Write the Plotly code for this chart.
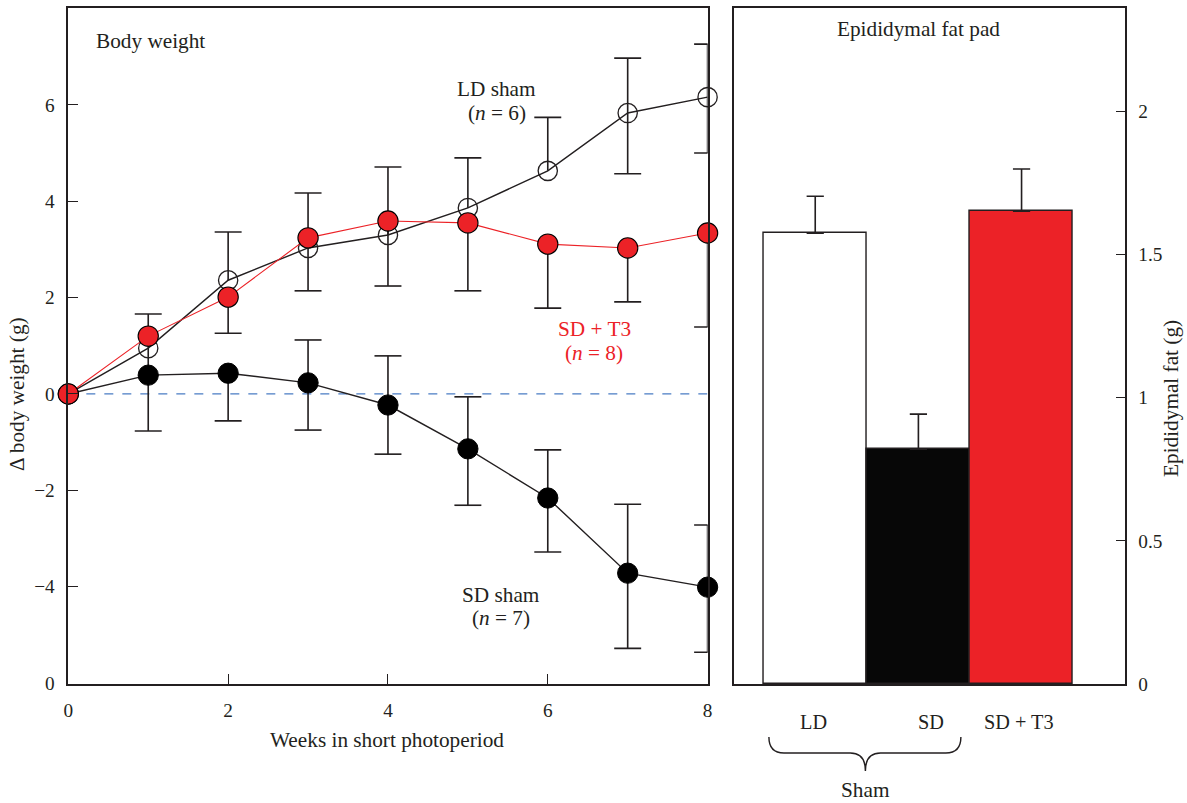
import plotly.graph_objects as go

# ---------------- data ----------------
weeks = [0, 1, 2, 3, 4, 5, 6, 7, 8]

ld_sham = [0, 0.95, 2.36, 3.03, 3.30, 3.86, 4.63, 5.83, 6.16]
ld_plus = [0, 0, 1.00, 1.14, 1.41, 1.04, 1.11, 1.14, 1.10]
ld_minus = [0, 0, 0, 0, 0, 0, 0, 1.26, 1.16]

sd_t3 = [0, 1.20, 2.01, 3.24, 3.59, 3.55, 3.11, 3.03, 3.34]
t3_plus = [0, 0, 0, 0, 0, 0, 0, 0, 0]
t3_minus = [0, 0, 0.75, 1.10, 1.35, 1.41, 1.33, 1.12, 1.95]

sd_sham = [0, 0.39, 0.43, 0.23, -0.23, -1.14, -2.16, -3.72, -4.01]
sd_plus = [0, 1.27, 0, 0.89, 1.02, 1.08, 1.00, 1.43, 1.29]
sd_minus = [0, 1.16, 0.99, 0.98, 1.02, 1.17, 1.12, 1.56, 1.35]

y_tickvals = [-6, -4, -2, 0, 2, 4, 6]
y_ticktext = ["0", "\u22124", "\u22122", "0", "2", "4", "6"]
x_tickvals = [0, 2, 4, 6, 8]

fat_groups = ["LD", "SD", "SD + T3"]
fat_values = [1.574, 0.820, 1.651]
fat_err = [0.129, 0.122, 0.147]
fat_ticks = [0, 0.5, 1, 1.5, 2]
fat_ticktext = ["0", "0.5", "1", "1.5", "2"]

# ---------------- style ----------------
# the photographed viewport is slightly larger than the picture and gets
# fitted into it; compensate so that target pixel positions are hit.
S = 0.9865
OX = 8.0
W = 1187
H = int(round(803 / S))
FONT = "Liberation Serif"
INK = "#231f20"
RED = "#ec2227"
BLUE = "#4a7cc4"


def k(v):
    return v / S


def px(x):
    return ((x - OX) / S) / W


def py(y):
    return 1 - (y / S) / H


fig = go.Figure()


def whiskers(vals, plus, minus):
    fig.add_trace(go.Scatter(
        x=weeks, y=vals, mode="markers",
        marker=dict(size=1, color="rgba(0,0,0,0)"),
        error_y=dict(type="data", symmetric=False, array=plus, arrayminus=minus,
                     color=INK, thickness=k(1.6), width=0),
        cliponaxis=True, showlegend=False, hoverinfo="skip",
        xaxis="x", yaxis="y"))
    cx, cy = [], []
    for w, v, p, m in zip(weeks, vals, plus, minus):
        if p > 0:
            cx.append(w)
            cy.append(v + p)
        if m > 0:
            cx.append(w)
            cy.append(v - m)
    fig.add_trace(go.Scatter(
        x=cx, y=cy, mode="markers",
        marker=dict(symbol="line-ew", size=k(19), line=dict(width=k(1.6), color=INK)),
        cliponaxis=True, showlegend=False, hoverinfo="skip",
        xaxis="x", yaxis="y"))


whiskers(sd_sham, sd_plus, sd_minus)
whiskers(ld_sham, ld_plus, ld_minus)
whiskers(sd_t3, t3_plus, t3_minus)

fig.add_trace(go.Scatter(
    x=weeks, y=sd_sham, mode="lines+markers",
    line=dict(color=INK, width=k(1.4)),
    marker=dict(symbol="circle", size=k(20), color="#000000",
                line=dict(width=1, color="#000000")),
    cliponaxis=False, showlegend=False, xaxis="x", yaxis="y"))
fig.add_trace(go.Scatter(
    x=weeks, y=ld_sham, mode="lines+markers",
    line=dict(color=INK, width=k(1.4)),
    marker=dict(symbol="circle-open", size=k(19), color=INK,
                line=dict(width=k(1.3), color=INK)),
    cliponaxis=False, showlegend=False, xaxis="x", yaxis="y"))
fig.add_trace(go.Scatter(
    x=weeks, y=sd_t3, mode="lines+markers",
    line=dict(color=RED, width=k(1.1)),
    marker=dict(symbol="circle", size=k(20), color=RED,
                line=dict(width=k(1.1), color="#000000")),
    cliponaxis=False, showlegend=False, xaxis="x", yaxis="y"))

fig.add_trace(go.Bar(
    x=fat_groups, y=fat_values, width=1.0,
    marker=dict(color=["#ffffff", "#070707", RED],
                line=dict(color=INK, width=k(1.4))),
    error_y=dict(type="data", symmetric=False, array=fat_err,
                 arrayminus=[0, 0, 0], color=INK, thickness=k(1.6), width=k(8.5)),
    showlegend=False, xaxis="x2", yaxis="y2"))

fig.add_shape(type="line", xref="x", yref="y", x0=0, x1=8, y0=0, y1=0,
              line=dict(color=BLUE, width=k(1.3), dash="dash"), layer="below")

brace = ("M {a},{b} Q {a},{c} {d},{c} L {e},{c} Q {f},{c} {f},{g} "
         "Q {f},{c} {h},{c} L {i},{c} Q {j},{c} {j},{b}").format(
    a=px(768), b=py(737), c=py(753), d=px(783), e=px(849), f=px(864),
    g=py(771), h=px(879), i=px(944), j=px(959))
fig.add_shape(type="path", xref="paper", yref="paper", path=brace,
              line=dict(color=INK, width=k(1.4)))

ann = []


def text(x, y, s, size=21, color=INK, angle=0, xanchor="center"):
    ann.append(dict(x=px(x), y=py(y), xref="paper", yref="paper", text=s,
                    showarrow=False, textangle=angle, xanchor=xanchor,
                    yanchor="middle",
                    font=dict(family=FONT, size=k(size), color=color)))


text(97, 41, "Body weight", xanchor="left")
text(497, 89, "LD sham")
text(497, 113, "(<i>n</i> = 6)")
text(594, 329, "SD + T3", color=RED)
text(594, 353, "(<i>n</i> = 8)", color=RED)
text(501, 595, "SD sham")
text(501, 618, "(<i>n</i> = 7)")
text(20, 394, "\u0394 body weight (g)", angle=-90)
text(388, 740, "Weeks in short photoperiod")
text(917, 29, "Epididymal fat pad")
text(1168, 398, "Epididymal fat (g)", angle=-90)
text(864, 790, "Sham")

label_x = [812, 929, 1017]
for lx, g in zip(label_x, fat_groups):
    text(lx, 722, g, size=20)

TF = dict(family=FONT, size=k(19), color=INK)
STANDOFF = int(round(k(8)))

fig.update_layout(
    width=W, height=H,
    margin=dict(l=0, r=0, t=0, b=0),
    paper_bgcolor="white", plot_bgcolor="white",
    font=dict(family=FONT, size=k(18), color=INK),
    annotations=ann,
    bargap=0,
    xaxis=dict(domain=[px(71), px(707)], range=[0, 8], tickvals=x_tickvals,
               ticks="inside", ticklen=k(10), tickwidth=k(1.3), tickcolor=INK,
               showline=True, mirror=True, linecolor=INK, linewidth=k(1.5),
               showgrid=False, zeroline=False, ticklabelstandoff=STANDOFF,
               tickfont=TF, anchor="y"),
    yaxis=dict(domain=[py(684), py(8)], range=[-6.02, 8.01], tickvals=y_tickvals,
               ticktext=y_ticktext, ticks="inside", ticklen=k(10),
               tickwidth=k(1.3), tickcolor=INK, showline=True, mirror=True,
               linecolor=INK, linewidth=k(1.5), showgrid=False, zeroline=False,
               ticklabelstandoff=STANDOFF, tickfont=TF, anchor="x"),
    xaxis2=dict(domain=[px(733), px(1122)], range=[-0.79, 3.0],
                showticklabels=False, ticks="", showline=True, mirror=True,
                linecolor=INK, linewidth=k(1.5), showgrid=False, zeroline=False,
                anchor="y2"),
    yaxis2=dict(domain=[py(684), py(8)], range=[0, 2.36], side="right",
                tickvals=fat_ticks, ticktext=fat_ticktext, ticks="inside",
                ticklen=k(9), tickwidth=k(1.3), tickcolor=INK, showline=True,
                mirror=True, linecolor=INK, linewidth=k(1.5), showgrid=False,
                zeroline=False, ticklabelstandoff=STANDOFF, tickfont=TF,
                anchor="x2"),
)

fig.write_html(
    "out.html",
    config={"displayModeBar": False},
    post_script=("document.documentElement.style.margin='0';"
                 "document.documentElement.style.overflow='hidden';"
                 "document.body.style.margin='0';"
                 "document.body.style.padding='0';"
                 "document.body.style.overflow='hidden';"),
)
